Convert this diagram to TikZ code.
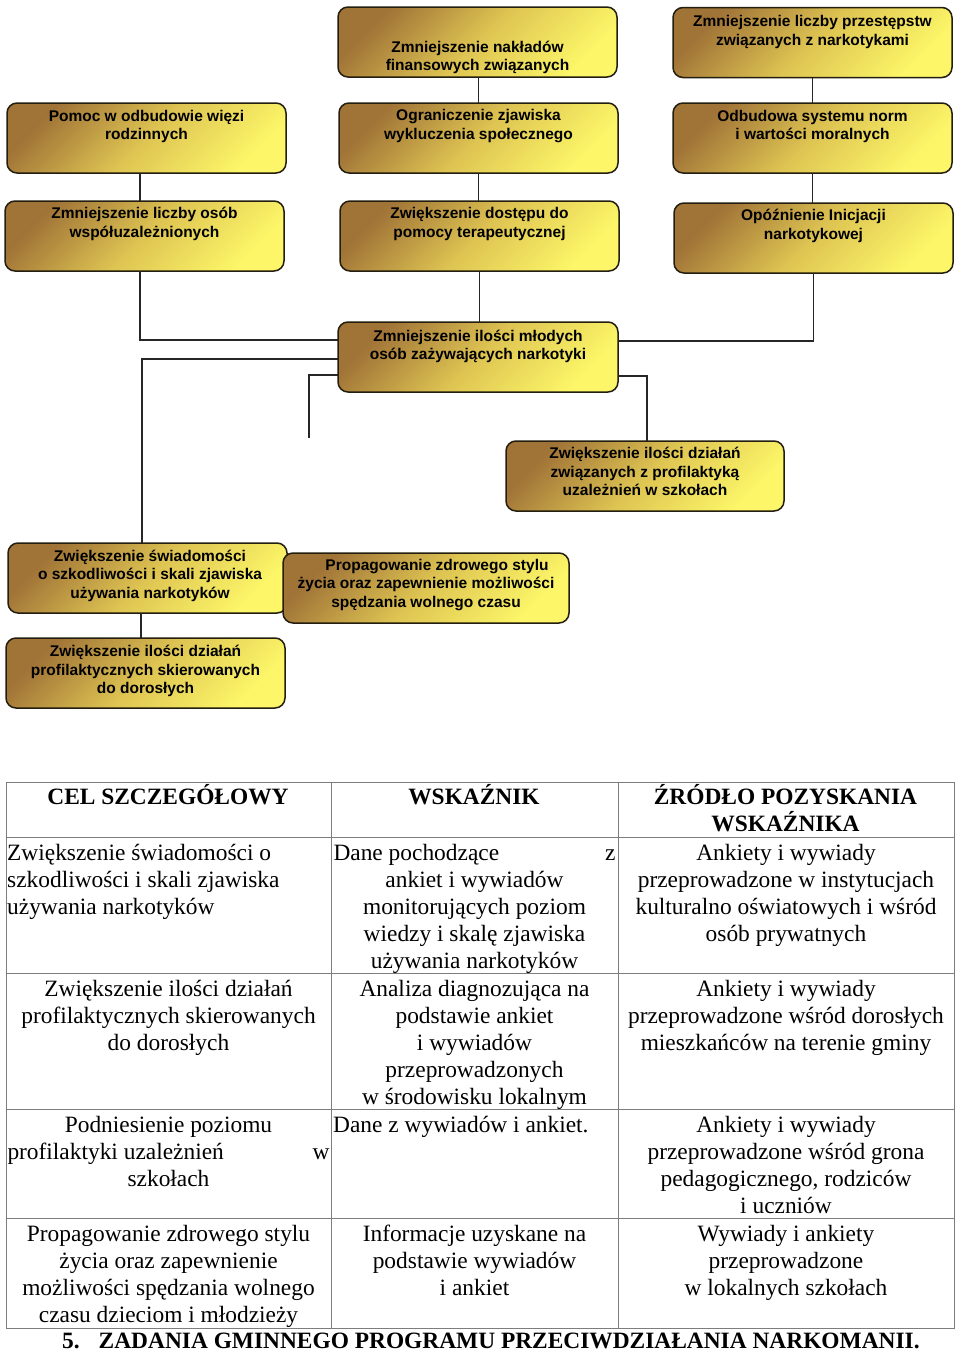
\documentclass[tikz,border=0pt]{standalone}
\usepackage{fontspec}
\setmainfont{Liberation Serif}
\newfontfamily\boxfont{Liberation Sans}
\usetikzlibrary{calc}
\definecolor{boxbrown}{RGB}{160,115,55}
\definecolor{boxgold}{RGB}{222,196,82}
\definecolor{boxyellow}{RGB}{252,246,104}
\definecolor{boxline}{RGB}{35,30,15}
\definecolor{tabline}{RGB}{125,125,125}
\begin{document}
\begin{tikzpicture}[x=1pt,y=-1pt,
  box/.style={draw=boxline, line width=1.5pt, rounded corners=10pt,
    top color=boxbrown, bottom color=boxyellow, middle color=boxgold, shading angle=45,
    minimum width=279pt, minimum height=70pt, inner sep=0pt, outer sep=0pt},
  btxt/.style={font=\boxfont\bfseries\fontsize{15.5}{18.7}\selectfont, align=center, anchor=base, inner sep=0pt},
  conn/.style={draw=black!85, line width=1.5pt},
  tab/.style={draw=tabline, line width=1pt},
  ttxt/.style={font=\fontsize{23.4}{27}\selectfont, align=center, anchor=base, inner sep=0pt},
  thead/.style={font=\bfseries\fontsize{23.4}{27}\selectfont, align=center, anchor=base, inner sep=0pt}]
\path[use as bounding box, fill=white] (0,0) rectangle (960,1352);

% boxes (text nodes are anchored at the baseline of their last line)
\node[box] (nak) at (477.5,42) {};
\node[btxt] at (477.5,70.7) {Zmniejszenie nakładów\\finansowych związanych};
\node[box] (prz) at (812.5,42.5) {};
\node[btxt] at (812.5,45.2) {Zmniejszenie liczby przestępstw\\związanych z narkotykami};
\node[box] (pom) at (146.5,138) {};
\node[btxt] at (146.5,139.7) {Pomoc w odbudowie więzi\\rodzinnych};
\node[box] (ogr) at (478.5,138) {};
\node[btxt] at (478.5,139.2) {Ograniczenie zjawiska\\wykluczenia społecznego};
\node[box] (odb) at (812.5,138) {};
\node[btxt] at (812.5,139.7) {Odbudowa systemu norm\\i wartości moralnych};
\node[box] (wsp) at (144.5,236) {};
\node[btxt] at (144.5,237.2) {Zmniejszenie liczby osób\\współuzależnionych};
\node[box] (dos) at (479.5,236) {};
\node[btxt] at (479.5,237.2) {Zwiększenie dostępu do\\pomocy terapeutycznej};
\node[box] (opo) at (813.5,238) {};
\node[btxt] at (813.5,239.2) {Opóźnienie Inicjacji\\narkotykowej};
\node[box, minimum width=280pt] (mlo) at (478,357) {};
\node[btxt] at (478,359.7) {Zmniejszenie ilości młodych\\osób zażywających narkotyki};
\node[box, minimum width=278pt] (szk) at (645,476) {};
\node[btxt] at (645,495.9) {Zwiększenie ilości działań\\związanych z profilaktyką\\uzależnień w szkołach};
\node[box] (swi) at (147.5,578) {};
\node[btxt] at (150,598.4) {Zwiększenie świadomości\\o szkodliwości i skali zjawiska\\używania narkotyków};
\node[box, minimum width=286pt] (pro) at (426,588) {};
\node[btxt] at (426,607.4) {\hspace*{22pt}Propagowanie zdrowego stylu\\życia oraz zapewnienie możliwości\\spędzania wolnego czasu};
\node[box] (dor) at (145.5,673) {};
\node[btxt] at (145.5,693.9) {Zwiększenie ilości działań\\profilaktycznych skierowanych\\do dorosłych};

% connectors
\draw[conn] (ogr.north |- nak.south) -- (ogr.north);
\draw[conn] (ogr.south) -- (ogr.south |- dos.north);
\draw[conn] (dos.south) -- (dos.south |- mlo.north);
\draw[conn] (prz.south) -- (prz.south |- odb.north);
\draw[conn] (odb.south) -- (odb.south |- opo.north);
\draw[conn] ($(pom.south)+(-6.5,0)$) -- ($(wsp.north)+(-4.5,0)$);
\draw[conn] ($(wsp.south)+(-4.5,0)$) |- ($(mlo.west)+(0,-17)$);
\draw[conn] (opo.south) |- ($(mlo.east)+(0,-16)$);
\draw[conn] ($(mlo.west)+(0,2)$) -| ($(swi.north)+(-5.5,0)$);
\coordinate (freeEnd) at (309,438);
\draw[conn] ($(mlo.west)+(0,18)$) -| (freeEnd);
\draw[conn] ($(mlo.east)+(0,19)$) -| ($(szk.north)+(2,0)$);
\draw[conn] ($(swi.south)+(-6.5,0)$) -- ($(dor.north)+(-4.5,0)$);

% table
\draw[tab] (6,782) rectangle (954,1328);
\draw[tab] (6,837) -- (954,837);
\draw[tab] (6,973) -- (954,973);
\draw[tab] (6,1109) -- (954,1109);
\draw[tab] (6,1218) -- (954,1218);
\draw[tab] (331,782) -- (331,1328);
\draw[tab] (618,782) -- (618,1328);

\node[thead] at (168,804) {CEL SZCZEGÓŁOWY};
\node[thead] at (474,804) {WSKAŹNIK};
\node[thead] at (785.5,831) {ŹRÓDŁO POZYSKANIA\\WSKAŹNIKA};

\node[ttxt, align=left, anchor=base west] at (7,914) {Zwiększenie świadomości o\\szkodliwości i skali zjawiska\\używania narkotyków};
\node[ttxt] at (474.5,968) {\makebox[282pt]{Dane pochodzące\hfill z}\\ankiet i wywiadów\\monitorujących poziom\\wiedzy i skalę zjawiska\\używania narkotyków};
\node[ttxt] at (786,941) {Ankiety i wywiady\\przeprowadzone w instytucjach\\kulturalno oświatowych i wśród\\osób prywatnych};

\node[ttxt] at (168.5,1050) {Zwiększenie ilości działań\\profilaktycznych skierowanych\\do dorosłych};
\node[ttxt] at (474.5,1104) {Analiza diagnozująca na\\podstawie ankiet\\i wywiadów\\przeprowadzonych\\w środowisku lokalnym};
\node[ttxt] at (786,1050) {Ankiety i wywiady\\przeprowadzone wśród dorosłych\\mieszkańców na terenie gminy};

\node[ttxt] at (168.5,1186) {Podniesienie poziomu\\\makebox[322pt]{profilaktyki uzależnień\hfill w}\\szkołach};
\node[ttxt, anchor=base west] at (333,1132) {Dane z wywiadów i ankiet.};
\node[ttxt] at (786,1213) {Ankiety i wywiady\\przeprowadzone wśród grona\\pedagogicznego, rodziców\\i uczniów};

\node[ttxt] at (168.5,1322) {Propagowanie zdrowego stylu\\życia oraz zapewnienie\\możliwości spędzania wolnego\\czasu dzieciom i młodzieży};
\node[ttxt] at (474.5,1295) {Informacje uzyskane na\\podstawie wywiadów\\i ankiet};
\node[ttxt] at (786,1295) {Wywiady i ankiety\\przeprowadzone\\w lokalnych szkołach};

\node[thead, anchor=base west] (title) at (62,1348) {5.\hspace{19pt}ZADANIA GMINNEGO PROGRAMU PRZECIWDZIAŁANIA NARKOMANII.};
\end{tikzpicture}
\end{document}
